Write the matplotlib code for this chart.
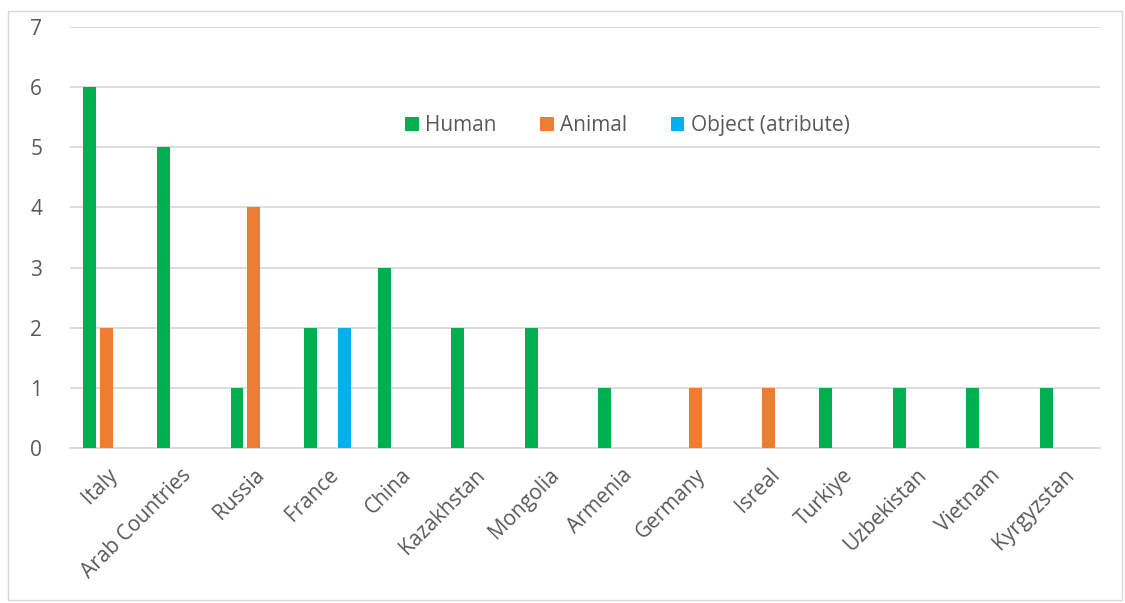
import matplotlib
matplotlib.use("Agg")
import matplotlib.pyplot as plt
from matplotlib.patches import Rectangle
import numpy as np

countries = ["Italy", "Arab Countries", "Russia", "France", "China", "Kazakhstan",
             "Mongolia", "Armenia", "Germany", "Isreal", "Turkiye", "Uzbekistan",
             "Vietnam", "Kyrgyzstan"]
human = [6, 5, 1, 2, 3, 2, 2, 1, 0, 0, 1, 1, 1, 1]
animal = [2, 0, 4, 0, 0, 0, 0, 0, 1, 1, 0, 0, 0, 0]
objects = [0, 0, 0, 2, 0, 0, 0, 0, 0, 0, 0, 0, 0, 0]
series_names = ["Human", "Animal", "Object (atribute)"]
colors = ["#00B050", "#ED7D31", "#00B0F0"]

plt.rcParams['font.family'] = ['Open Sans', 'DejaVu Sans']
txt = "#595959"

fig = plt.figure(figsize=(11.25, 6.03), dpi=100)
fig.patches.append(Rectangle((8/1125, 3/603), (1122-8)/1125, (592-3)/603, transform=fig.transFigure,
                             fill=False, edgecolor="#D9D9D9", linewidth=1.0))
ax = fig.add_axes([70/1125, (603-448)/603, (1100-70)/1125, (448-27)/603])

x = np.arange(len(countries))
w = 0.176
step = 0.23
for i, (vals, name, c) in enumerate(zip([human, animal, objects], series_names, colors)):
    ax.bar(x + (i - 1) * step, vals, width=w, color=c, label=name, zorder=3)

ax.set_xlim(-0.5, len(countries) - 0.5)
ax.set_ylim(0, 7)
ax.set_yticks(range(8))
ax.yaxis.grid(True, color="#D9D9D9", linewidth=1.3, zorder=0)
for s in ["top", "right", "left"]:
    ax.spines[s].set_visible(False)
ax.spines["bottom"].set_color("#D9D9D9")
ax.spines["bottom"].set_linewidth(1.3)
ax.tick_params(axis="both", length=0, labelsize=15, labelcolor=txt)
ax.tick_params(axis="y", pad=20)
ax.set_xticks(x)
ax.set_xticklabels(countries, rotation=45, ha="right", rotation_mode="anchor")
ax.tick_params(axis="x", pad=12)

leg = ax.legend(loc="center", bbox_to_anchor=(0.541, 0.765), ncol=3, frameon=False,
                fontsize=15, labelcolor=txt, handlelength=0.65, handleheight=0.65,
                handletextpad=0.3, columnspacing=2.1)

fig.savefig("out.png", dpi=100, facecolor="white")
